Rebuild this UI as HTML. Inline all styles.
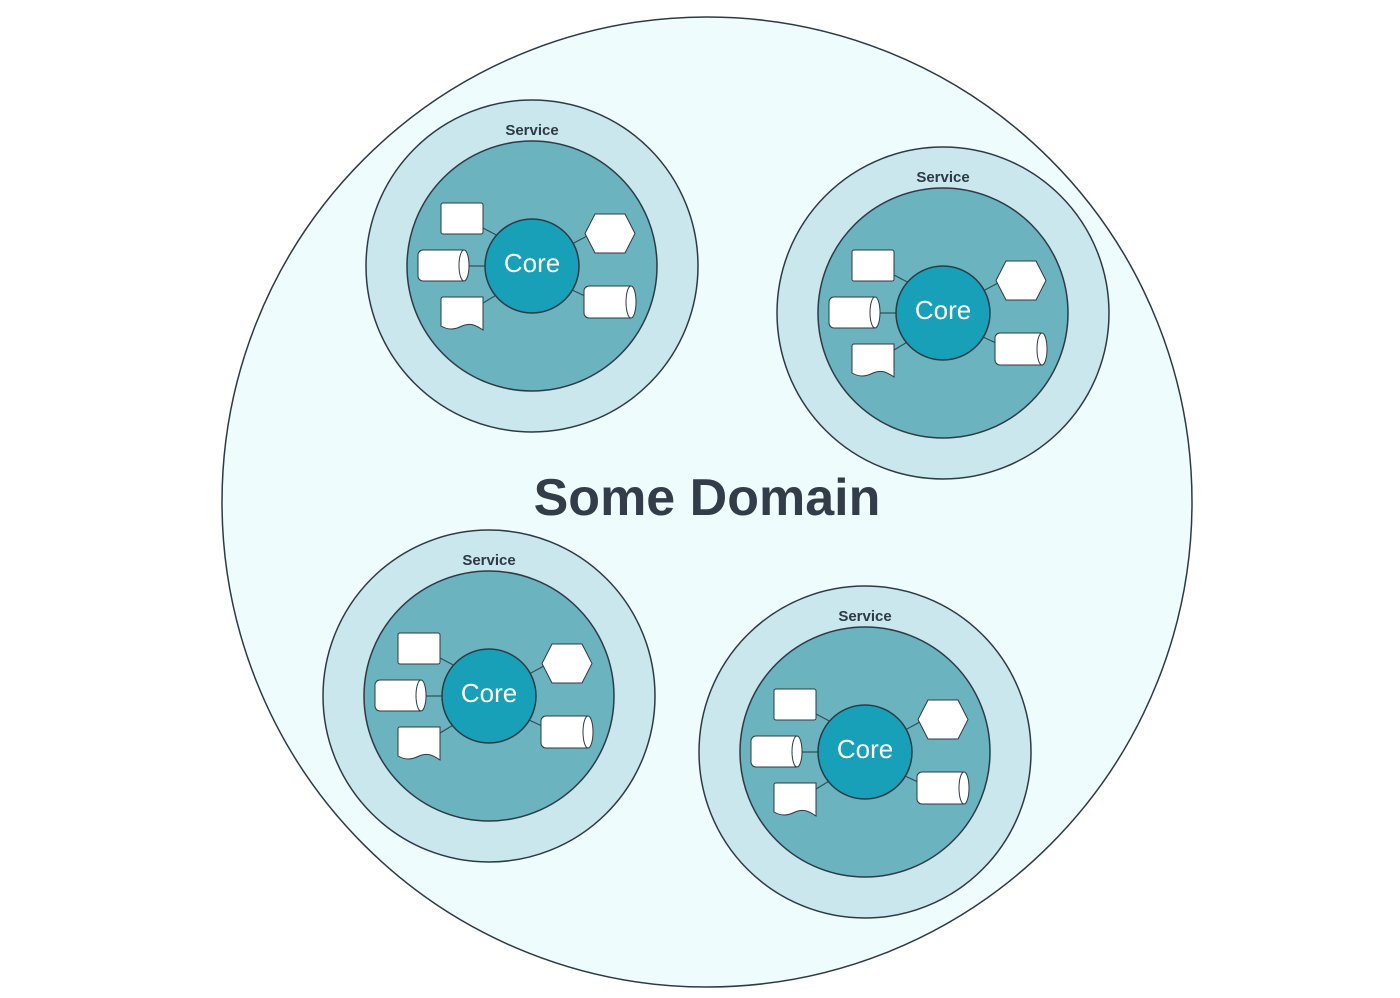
<!DOCTYPE html>
<html><head><meta charset="utf-8"><style>html,body{margin:0;padding:0;background:#fff}svg{display:block}</style></head>
<body>
<svg width="1400" height="998" viewBox="0 0 1400 998" xmlns="http://www.w3.org/2000/svg" font-family="Liberation Sans, sans-serif">
<defs>
<g id="svc">
  <circle r="166" fill="#c9e7ec" stroke="#2d3a45" stroke-width="1.5"/>
  <circle r="125" fill="#6ab3bf" stroke="#2d3a45" stroke-width="1.5"/>
  <g stroke="#2d4f58" stroke-width="1.2">
    <line x1="-30" y1="-28" x2="-49" y2="-38"/>
    <line x1="-47" y1="0" x2="-63" y2="0"/>
    <line x1="-34" y1="28" x2="-49" y2="37"/>
    <line x1="40" y1="-22" x2="55" y2="-30"/>
    <line x1="40" y1="24" x2="53" y2="30"/>
  </g>
  <circle r="47" fill="#17a0b7" stroke="#2d3a45" stroke-width="1.5"/>
  <text x="0" y="6" text-anchor="middle" font-size="26" fill="#fff">Core</text>
  <g fill="#fff" stroke="#2d3a45" stroke-width="1">
    <rect x="-91" y="-63" width="42" height="31" rx="2"/>
    <path d="M-109,-16 H-68 A5,15.5 0 0 1 -68,15 H-109 A5,5 0 0 1 -114,10 V-11 A5,5 0 0 1 -109,-16 Z"/>
    <path d="M-68,-16 A5,15.5 0 0 0 -68,15"/>
    <path d="M-91,33 A2,2 0 0 1 -89,31 H-49 V64 C-58,58 -62,57 -70,60 C-78,64 -84,64 -91,60 Z"/>
    <path d="M63,-52 H93 L103,-32.5 L93,-13 H63 L53,-32.5 Z"/>
    <path d="M57,20 H99 A5,16 0 0 1 99,52 H57 A5,5 0 0 1 52,47 V25 A5,5 0 0 1 57,20 Z"/>
    <path d="M99,20 A5,16 0 0 0 99,52"/>
  </g>
  <text x="0" y="-131" text-anchor="middle" font-size="15" font-weight="bold" fill="#2d3a45">Service</text>
</g>
</defs>
<circle cx="707" cy="502" r="485" fill="#effcfd" stroke="#2d3a45" stroke-width="1.5"/>
<text x="707" y="515" text-anchor="middle" font-size="52" font-weight="bold" fill="#333d49">Some Domain</text>
<use href="#svc" x="532" y="266"/>
<use href="#svc" x="943" y="313"/>
<use href="#svc" x="489" y="696"/>
<use href="#svc" x="865" y="752"/>
</svg>
</body></html>
